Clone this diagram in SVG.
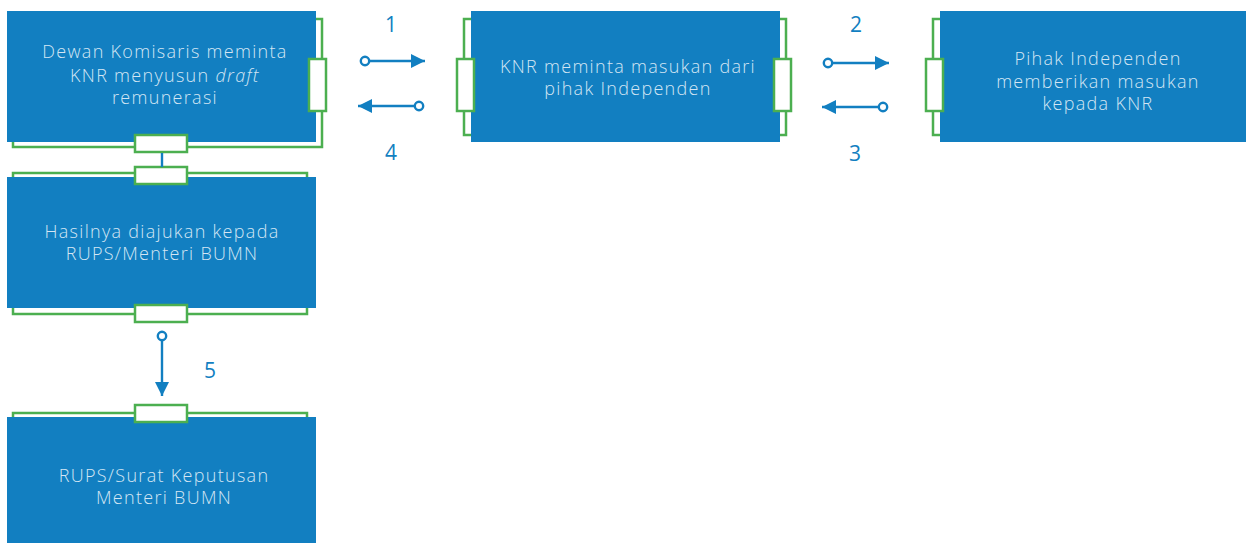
<svg xmlns="http://www.w3.org/2000/svg" width="1246" height="543" viewBox="0 0 1246 543">
<defs>
<style>
.frame{fill:none;stroke:#4caf50;stroke-width:2.5}
.tab{fill:#fff;stroke:#4caf50;stroke-width:2.5}
.box{fill:#127fc1}
.t{font-family:"Open Sans","Liberation Sans",sans-serif;font-weight:300;font-size:18px;letter-spacing:1.3px;fill:#d4e6f4;text-anchor:middle}
.n{font-family:"Open Sans","Liberation Sans",sans-serif;font-size:21px;fill:#127fc1;text-anchor:middle}
.c{stroke:#127fc1;stroke-width:2.4;fill:none}
.dot{fill:#fff;stroke:#127fc1;stroke-width:2.4}
</style>
<marker id="ah" viewBox="0 0 10 10" refX="10" refY="5" markerWidth="18" markerHeight="14" markerUnits="userSpaceOnUse" orient="auto"><path d="M0,0 L10,5 L0,10 z" fill="#127fc1"/></marker>
</defs>
<g id="node1">
<rect class="frame" x="13" y="19" width="309" height="128"/>
<rect class="box" x="7" y="11" width="309" height="131"/>
<rect class="tab" x="309" y="59" width="17" height="52"/>
<rect class="tab" x="135" y="135" width="52" height="17"/>
<text class="t" x="165" y="58">Dewan Komisaris meminta</text>
<text class="t" x="165" y="82">KNR menyusun <tspan font-style="italic">draft</tspan></text>
<text class="t" x="165" y="104">remunerasi</text>
</g>
<g id="node2">
<rect class="frame" x="464" y="19" width="322" height="116"/>
<rect class="box" x="471" y="11" width="309" height="131"/>
<rect class="tab" x="457" y="59" width="17" height="52"/>
<rect class="tab" x="774" y="59" width="17" height="52"/>
<text class="t" x="628" y="73">KNR meminta masukan dari</text>
<text class="t" x="628" y="95">pihak Independen</text>
</g>
<g id="node3">
<rect class="frame" x="933" y="19" width="20" height="116"/>
<rect class="box" x="940" y="11" width="306" height="131"/>
<rect class="tab" x="926" y="59" width="17" height="52"/>
<text class="t" x="1098" y="65">Pihak Independen</text>
<text class="t" x="1098" y="88">memberikan masukan</text>
<text class="t" x="1098" y="110">kepada KNR</text>
</g>
<g id="node4">
<rect class="frame" x="13" y="173" width="294" height="141"/>
<rect class="box" x="7" y="177" width="309" height="131"/>
<rect class="tab" x="135" y="167" width="52" height="17"/>
<rect class="tab" x="135" y="305" width="52" height="17"/>
<text class="t" x="162" y="238">Hasilnya diajukan kepada</text>
<text class="t" x="162" y="260">RUPS/Menteri BUMN</text>
</g>
<g id="node5">
<rect class="frame" x="13" y="413" width="294" height="40"/>
<rect class="box" x="7" y="417" width="309" height="126"/>
<rect class="tab" x="135" y="405" width="52" height="17"/>
<text class="t" x="164" y="482">RUPS/Surat Keputusan</text>
<text class="t" x="164" y="504">Menteri BUMN</text>
</g>
<g id="connectors">
<line class="c" x1="162" y1="153" x2="162" y2="167"/>
<line class="c" x1="369" y1="61" x2="425" y2="61" marker-end="url(#ah)"/>
<circle class="dot" cx="365" cy="61" r="4.2"/>
<line class="c" x1="415" y1="106" x2="358" y2="106" marker-end="url(#ah)"/>
<circle class="dot" cx="419" cy="106" r="4.2"/>
<line class="c" x1="832" y1="63" x2="889" y2="63" marker-end="url(#ah)"/>
<circle class="dot" cx="828" cy="63" r="4.2"/>
<line class="c" x1="879" y1="107" x2="822" y2="107" marker-end="url(#ah)"/>
<circle class="dot" cx="883" cy="107" r="4.2"/>
<line class="c" x1="162" y1="340" x2="162" y2="396" marker-end="url(#ah)"/>
<circle class="dot" cx="162" cy="336" r="4.2"/>
<text class="n" x="391" y="32">1</text>
<text class="n" x="391" y="160">4</text>
<text class="n" x="856" y="32">2</text>
<text class="n" x="855" y="161">3</text>
<text class="n" x="210" y="378">5</text>
</g>
</svg>
